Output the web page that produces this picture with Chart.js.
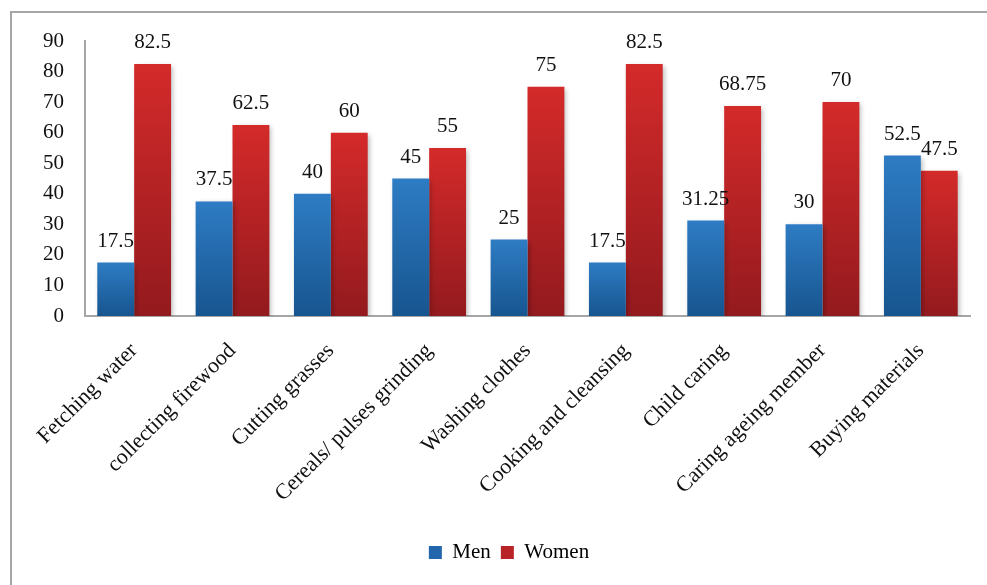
<!DOCTYPE html>
<html>
<head>
<meta charset="utf-8">
<script src="https://cdn.jsdelivr.net/npm/chart.js@4"></script>
<style>
  html, body { margin: 0; padding: 0; background: #fff; }
  #wrap { position: relative; width: 987px; height: 585px; overflow: hidden; }
  #frame { position: absolute; left: 10px; top: 11px; width: 1000px; height: 600px;
           border-left: 2px solid #a6a6a6; border-top: 2px solid #a6a6a6; }
  canvas { position: absolute; left: 0; top: 0; }
</style>
</head>
<body>
<div id="wrap">
  <div id="frame"></div>
  <canvas id="chart" width="987" height="585"></canvas>
</div>
<script>
// --- DATA ---
const categories = [
    'Fetching water', 'collecting firewood', 'Cutting grasses',
    'Cereals/ pulses grinding', 'Washing clothes', 'Cooking and cleansing',
    'Child caring', 'Caring ageing member', 'Buying materials'
];
const menValues = [17.5, 37.5, 40, 45, 25, 17.5, 31.25, 30, 52.5];
const womenValues = [82.5, 62.5, 60, 55, 75, 82.5, 68.75, 70, 47.5];
const yTicks = [0, 10, 20, 30, 40, 50, 60, 70, 80, 90];

const FONT = "'Liberation Serif', 'Times New Roman', serif";

// --- HELPERS ---
function barGradient(top, bottom) {
    return function (context) {
        const chart = context.chart;
        if (!chart.chartArea || context.type !== 'data') return bottom;
        const yScale = chart.scales.y;
        const g = chart.ctx.createLinearGradient(0, yScale.getPixelForValue(context.raw),
                                                 0, yScale.getPixelForValue(0));
        g.addColorStop(0, top);
        g.addColorStop(1, bottom);
        return g;
    };
}

// bar values printed above each bar
const valueLabels = {
    id: 'valueLabels',
    afterDatasetsDraw(chart) {
        const ctx = chart.ctx;
        ctx.save();
        ctx.font = '21px ' + FONT;
        ctx.fillStyle = '#111';
        ctx.textAlign = 'center';
        ctx.textBaseline = 'alphabetic';
        chart.data.datasets.forEach((ds, i) => {
            chart.getDatasetMeta(i).data.forEach((bar, j) => {
                ctx.fillText(String(ds.data[j]), bar.x, bar.y - 16);
            });
        });
        ctx.restore();
    }
};

// soft shadow under the bars
const barShadow = {
    id: 'barShadow',
    beforeDatasetsDraw(chart) {
        const ctx = chart.ctx;
        ctx.save();
        ctx.shadowColor = 'rgba(0,0,0,0.28)';
        ctx.shadowBlur = 5;
        ctx.shadowOffsetX = 2;
        ctx.shadowOffsetY = 2;
    },
    afterDatasetsDraw(chart) {
        chart.ctx.restore();
    }
};

// legend sits a little right of the canvas centre in the original
const legendShift = {
    id: 'legendShift',
    afterLayout(chart) {
        if (!chart.legend) return;
        chart.legend.left += 18;
        chart.legend.right += 18;
    }
};

new Chart(document.getElementById('chart').getContext('2d'), {
    type: 'bar',
    data: {
        labels: categories,
        datasets: [
            { label: 'Men', data: menValues,
              backgroundColor: barGradient('#2e7cc4', '#17558f') },
            { label: 'Women', data: womenValues,
              backgroundColor: barGradient('#d42a2a', '#931a1e') }
        ]
    },
    options: {
        responsive: false,
        animation: false,
        layout: { padding: { left: 12, top: 41, right: 17, bottom: 12 } },
        datasets: { bar: { barPercentage: 1, categoryPercentage: 0.75 } },
        scales: {
            x: {
                grid: { display: false },
                border: { display: true, color: '#a6a6a6', width: 2 },
                ticks: {
                    color: '#111', font: { family: FONT, size: 22 },
                    minRotation: 45, maxRotation: 45, autoSkip: false, padding: 14
                },
                afterFit(scale) { scale.height = 216; }
            },
            y: {
                min: 0, max: 90,
                grid: { display: false },
                border: { display: true, color: '#a6a6a6', width: 2 },
                afterBuildTicks(scale) { scale.ticks = yTicks.map(v => ({ value: v })); },
                ticks: {
                    color: '#111', font: { family: FONT, size: 21 }, padding: 13
                },
                afterFit(scale) { scale.width = 73; }
            }
        },
        plugins: {
            legend: {
                position: 'bottom',
                labels: {
                    color: '#111', font: { family: FONT, size: 21 },
                    boxWidth: 13, boxHeight: 13, padding: 10,
                    generateLabels(chart) {
                        const cols = ['#2266ad', '#b82327'];
                        return chart.data.datasets.map((ds, i) => ({
                            text: ds.label, fillStyle: cols[i], strokeStyle: cols[i],
                            lineWidth: 0, datasetIndex: i, hidden: false
                        }));
                    }
                }
            },
            tooltip: { enabled: false }
        }
    },
    plugins: [barShadow, valueLabels, legendShift]
});
</script>
</body>
</html>
